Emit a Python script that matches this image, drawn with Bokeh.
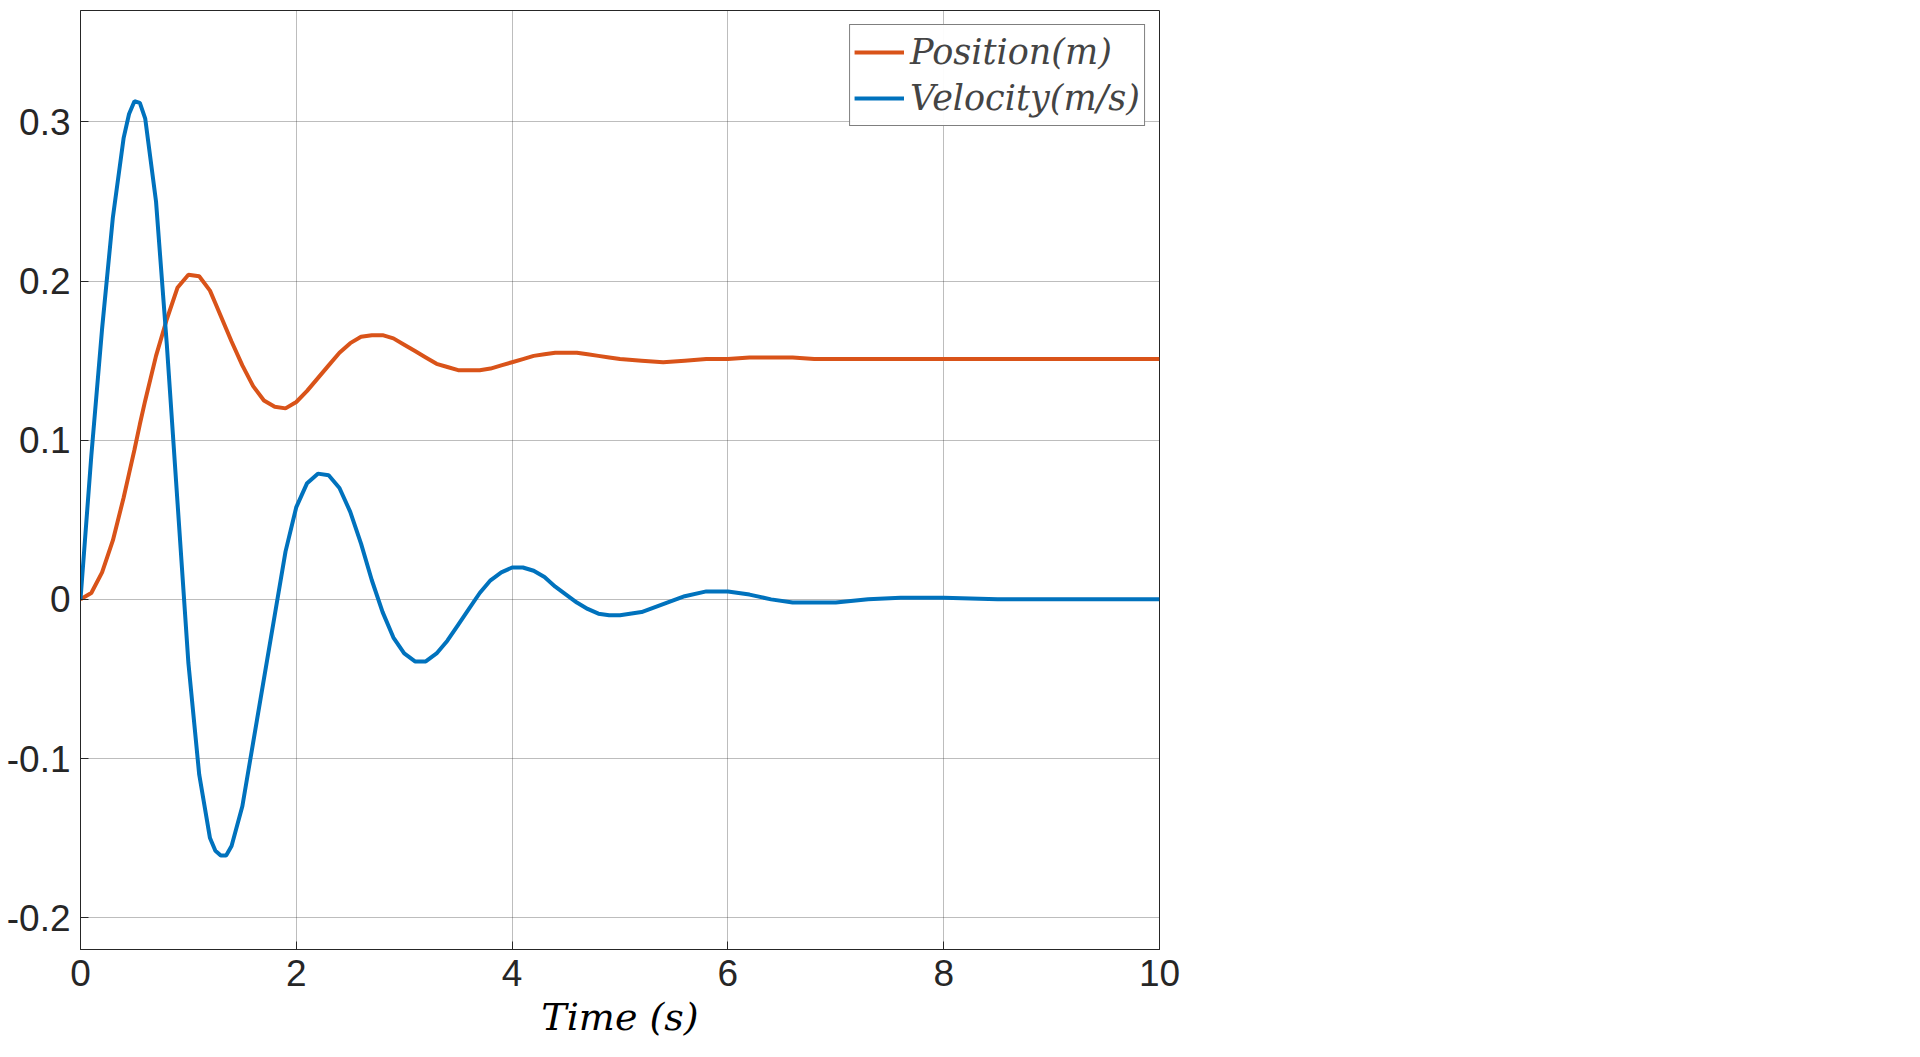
from bokeh.plotting import figure
from bokeh.models import FixedTicker, Legend
from bokeh.embed import file_html
from bokeh.resources import INLINE

t = [0, 0.1, 0.2, 0.3, 0.4, 0.45, 0.5, 0.55, 0.6, 0.7, 0.8, 0.9, 1.0, 1.1, 1.2, 1.25,
     1.3, 1.35, 1.4, 1.5,
     1.6, 1.7, 1.8, 1.9, 2.0, 2.1, 2.2, 2.3, 2.4, 2.5, 2.6, 2.7, 2.8, 2.9, 3.0, 3.1,
     3.2, 3.3, 3.4, 3.5, 3.6, 3.7, 3.8, 3.9, 4.0, 4.1, 4.2, 4.3, 4.4, 4.5, 4.6, 4.7,
     4.8, 4.9, 5.0, 5.2, 5.4, 5.6, 5.8, 6.0, 6.2, 6.4, 6.6, 6.8, 7.0, 7.3, 7.6, 8.0,
     8.5, 9.0, 10.0]
position = [0, 0.004, 0.017, 0.037, 0.064, 0.079, 0.094, 0.110, 0.125, 0.153, 0.176,
            0.196, 0.204, 0.203, 0.194, 0.186, 0.178, 0.170, 0.162, 0.147,
            0.134, 0.125, 0.121, 0.120, 0.124,
            0.131, 0.139, 0.147, 0.155, 0.161, 0.165, 0.166, 0.166, 0.164, 0.160,
            0.156, 0.152, 0.148, 0.146, 0.144, 0.144, 0.144, 0.145, 0.147, 0.149,
            0.151, 0.153, 0.154, 0.155, 0.155, 0.155, 0.154, 0.153, 0.152, 0.151,
            0.150, 0.149, 0.150, 0.151, 0.151, 0.152, 0.152, 0.152, 0.151, 0.151,
            0.151, 0.151, 0.151, 0.151, 0.151, 0.151]
velocity = [0, 0.09, 0.17, 0.24, 0.29, 0.305, 0.313, 0.312, 0.302, 0.25, 0.16, 0.06,
            -0.04, -0.11, -0.15, -0.158, -0.161, -0.161, -0.155, -0.13,
            -0.09, -0.05, -0.01, 0.03, 0.058, 0.073,
            0.079, 0.078, 0.07, 0.055, 0.035, 0.012, -0.008, -0.024, -0.034, -0.039,
            -0.039, -0.034, -0.026, -0.016, -0.006, 0.004, 0.012, 0.017, 0.02, 0.02,
            0.018, 0.014, 0.008, 0.003, -0.002, -0.006, -0.009, -0.01, -0.01, -0.008,
            -0.003, 0.002, 0.005, 0.005, 0.003, 0.0, -0.002, -0.002, -0.002, 0.0,
            0.001, 0.001, 0.0, 0.0, 0.0]
x_ticks = [0, 2, 4, 6, 8, 10]
y_ticks = [-0.2, -0.1, 0, 0.1, 0.2, 0.3]
y_labels = ["-0.2", "-0.1", "0", "0.1", "0.2", "0.3"]

p = figure(width=1189, height=1041, x_range=(0, 10), y_range=(-0.22, 0.37),
           output_backend="svg", toolbar_location=None,
           min_border_left=80, min_border_right=30, min_border_top=10, min_border_bottom=24)

l1 = p.line(t, position, line_color="#D95319", line_width=4)
l2 = p.line(t, velocity, line_color="#0072BD", line_width=4)

p.xaxis.ticker = FixedTicker(ticks=x_ticks)
p.yaxis.ticker = FixedTicker(ticks=y_ticks)
p.yaxis.major_label_overrides = {v: s for v, s in zip(y_ticks, y_labels)}
p.xaxis.major_label_overrides = {v: str(v) for v in x_ticks}

for ax in (p.xaxis[0], p.yaxis[0]):
    ax.axis_line_color = "#262626"
    ax.major_tick_in = 8
    ax.major_tick_out = 0
    ax.minor_tick_line_color = None
    ax.major_tick_line_color = "#262626"
    ax.major_label_text_font = "Liberation Sans"
    ax.major_label_text_font_size = "37px"
    ax.major_label_text_color = "#262626"
    ax.major_label_standoff = 10

p.xaxis.axis_label = "Time (s)"
p.xaxis.axis_label_text_font = "DejaVu Serif"
p.xaxis.axis_label_text_font_style = "italic"
p.xaxis.axis_label_text_font_size = "38px"
p.xaxis.axis_label_text_color = "black"
p.xaxis.axis_label_standoff = 6

p.grid.grid_line_color = "#262626"
p.grid.grid_line_alpha = 0.3
p.outline_line_color = "#262626"
p.outline_line_alpha = 1.0

legend = Legend(items=[("Position(m)", [l1]), ("Velocity(m/s)", [l2])],
                location="top_right")
legend.label_text_font = "DejaVu Serif"
legend.label_text_font_style = "italic"
legend.label_text_font_size = "35px"
legend.border_line_color = "black"
legend.border_line_width = 1
legend.glyph_width = 50
legend.label_standoff = 6
legend.spacing = 0
legend.padding = 4
legend.margin = 14
legend.label_height = 46
legend.glyph_height = 46
p.add_layout(legend)
p.legend.margin = 14

open("out.html", "w").write(file_html(p, INLINE))
